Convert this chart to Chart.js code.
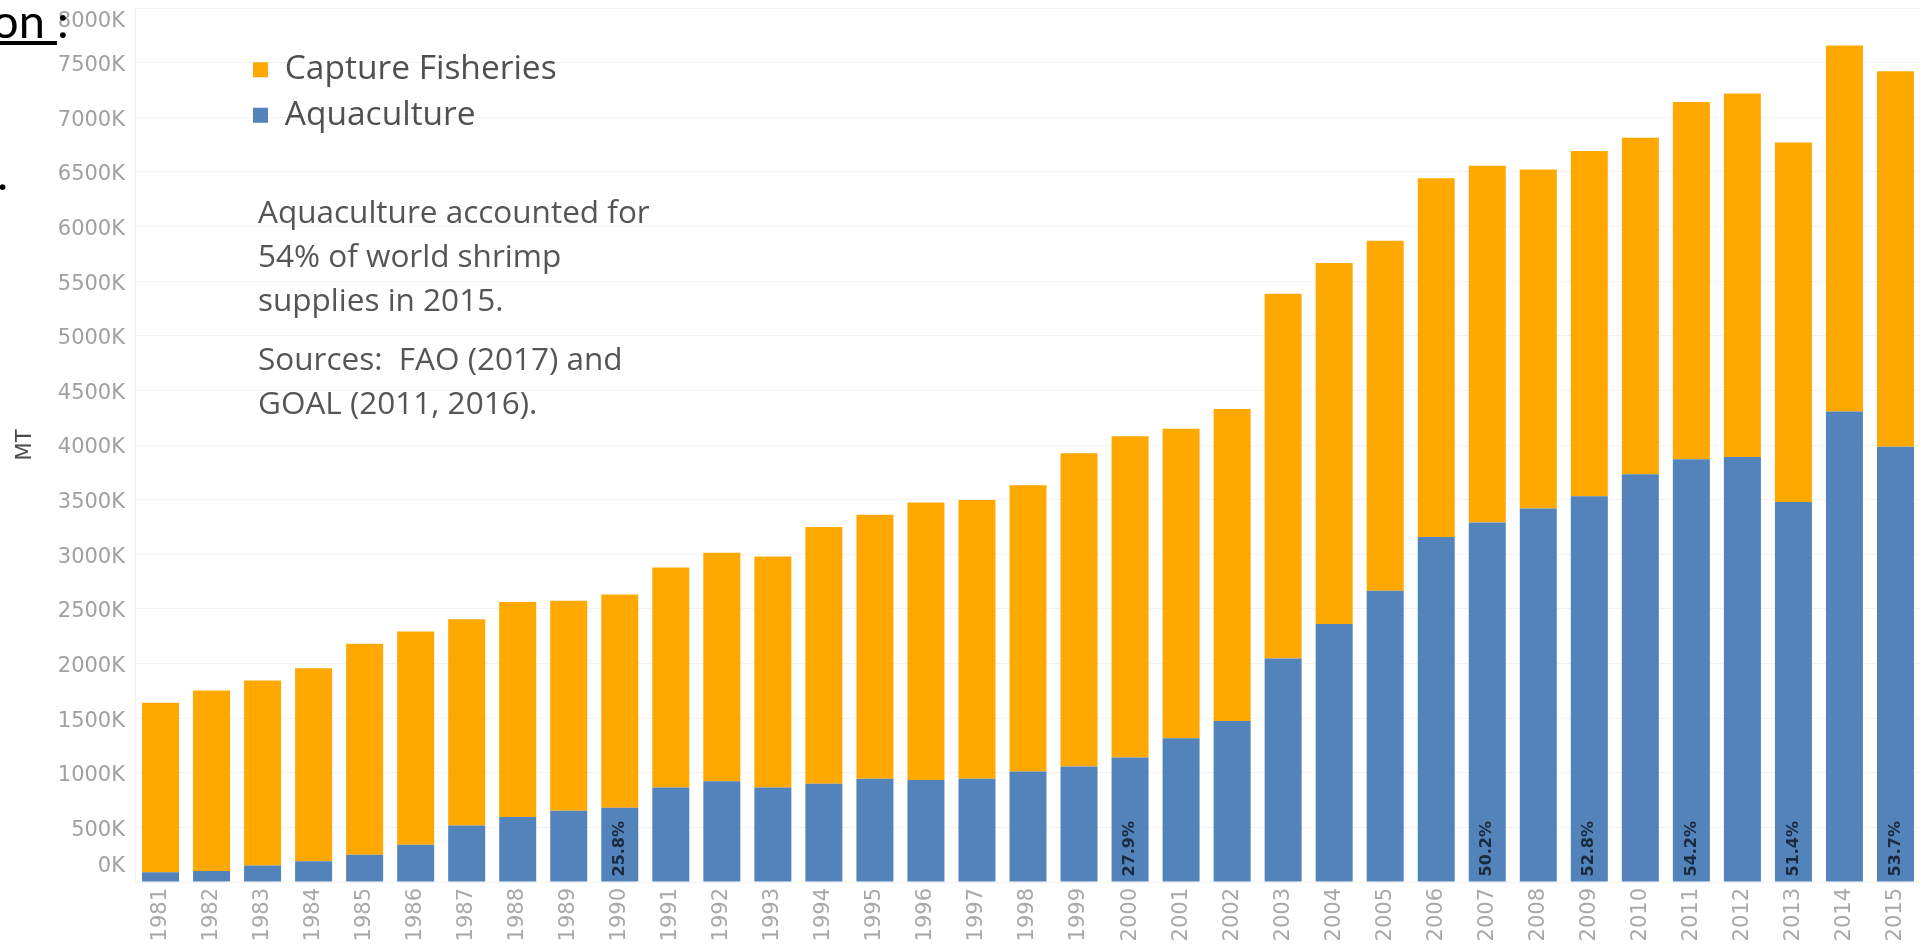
<!DOCTYPE html>
<html><head><meta charset="utf-8">
<script src="https://cdn.jsdelivr.net/npm/chart.js@4.4.0/dist/chart.umd.min.js"></script>
<style>
html,body{margin:0;padding:0;background:#fff;}
#wrap{position:relative;width:1926px;height:947px;overflow:hidden;}
#c{position:absolute;left:0;top:0;}
.note{position:absolute;left:258px;top:189px;font-family:'Open Sans';font-size:31.5px;line-height:44px;color:#555;white-space:pre;}
.note p{margin:0 0 15px 0;}
.slide{position:absolute;font-family:Lato;color:#000;font-size:47px;line-height:1;}
</style></head><body>
<div id="wrap"><canvas id="c" width="1926" height="947"></canvas>
<div class="note"><p>Aquaculture accounted for
54% of world shrimp
supplies in 2015.</p><p>Sources:  FAO (2017) and
GOAL (2011, 2016).</p></div>
<div class="slide" style="left:-8px;top:-3px;"><u>on </u>:</div>
<div class="slide" style="left:-3px;top:149px;">.</div>
</div>
<script>
const years = ['1981','1982','1983','1984','1985','1986','1987','1988','1989','1990','1991','1992','1993','1994','1995','1996','1997','1998','1999','2000','2001','2002','2003','2004','2005','2006','2007','2008','2009','2010','2011','2012','2013','2014','2015'];
// thousand metric tonnes
const aquaculture = [90,100,150,190,250,340,517,596,652,679,866,922,866,900,944,933,944,1012,1057,1139,1315,1473,2046,2361,2665,3159,3291,3418,3532,3733,3869,3890,3479,4306,3985];
const capture = [1551,1654,1694,1766,1931,1954,1889,1967,1923,1952,2012,2091,2113,2349,2418,2541,2553,2619,2867,2942,2834,2856,3339,3306,3204,3283,3264,3103,3158,3080,3270,3328,3289,3350,3435];
const pctLabels = [null,null,null,null,null,null,null,null,null,'25.8%',null,null,null,null,null,null,null,null,null,'27.9%',null,null,null,null,null,null,'50.2%',null,'52.8%',null,'54.2%',null,'51.4%',null,'53.7%'];
const yUnit = 'K';

const ORANGE = '#FFA900';
const BLUE = '#5283BA';
Chart.defaults.font.family = '"DejaVu Sans", sans-serif';

const pctPlugin = {
  id: 'pct',
  afterDatasetsDraw(chart) {
    const meta = chart.getDatasetMeta(0);
    const ctx = chart.ctx;
    ctx.save();
    ctx.font = 'bold 16px "DejaVu Sans"';
    ctx.fillStyle = '#1c2a3d';
    ctx.textAlign = 'left';
    ctx.textBaseline = 'middle';
    pctLabels.forEach((t, i) => {
      if (!t) return;
      const bar = meta.data[i];
      ctx.save();
      ctx.translate(bar.x, bar.base - 5);
      ctx.rotate(-Math.PI / 2);
      ctx.fillText(t, 0, 0);
      ctx.restore();
    });
    ctx.restore();
  }
};
const legendPlace = {
  id: 'legendPlace',
  afterLayout(chart) {
    const l = chart.legend;
    if (!l) return;
    const w = l.width, h = l.height;
    l.left = 241; l.top = 41; l.right = l.left + w; l.bottom = l.top + h;
  }
};
// keep the end tick labels inside the plot like the original (0K nudged up, top label nudged down)
const edgeLabels = {
  id: 'edgeLabels',
  beforeDraw(chart) {
    const s = chart.scales.y;
    const items = s.getLabelItems();
    if (!items.length || items._nudged) return;
    items.forEach(it => { it.options.translation[1] += 3; });
    items[0].options.translation[1] -= 18;
    items[items.length - 1].options.translation[1] += 11;
    items._nudged = true;
  }
};

new Chart(document.getElementById('c'), {
  type: 'bar',
  data: {
    labels: years,
    datasets: [
      {label: 'Aquaculture', data: aquaculture, backgroundColor: BLUE, borderWidth: 0, barPercentage: 0.725, categoryPercentage: 1},
      {label: 'Capture Fisheries', data: capture, backgroundColor: ORANGE, borderWidth: 0, barPercentage: 0.725, categoryPercentage: 1}
    ]
  },
  plugins: [pctPlugin, legendPlace, edgeLabels],
  options: {
    responsive: false,
    animation: false,
    layout: {padding: {top: 8, right: 5, bottom: 0, left: 0}},
    plugins: {
      tooltip: {enabled: false},
      legend: {
        position: 'chartArea', align: 'start', reverse: true,
        labels: {boxWidth: 15, boxHeight: 15, padding: 12, color: '#505050', font: {family: '"Open Sans"', size: 33.5}}
      }
    },
    scales: {
      x: {
        stacked: true,
        grid: {display: false, drawTicks: false},
        border: {display: false},
        ticks: {minRotation: 90, maxRotation: 90, autoSkip: false, padding: 6, color: '#a8a8a8', font: {size: 21}},
        afterFit(s) { s.height = 65; s.paddingLeft = 0; s.paddingRight = 0; }
      },
      y: {
        stacked: true, min: 0, max: 8000,
        grid: {color: '#f2f2f2', drawTicks: false},
        border: {color: '#eeeeee'},
        ticks: {stepSize: 500, padding: 10, color: '#a0a0a0', font: {size: 21}, callback: v => v + yUnit},
        title: {display: true, text: 'MT', color: '#4a4a4a', font: {size: 21}, padding: {top: 13, bottom: 0}},
        afterFit(s) { s.width = 135; s.paddingTop = 0; s.paddingBottom = 0; }
      }
    }
  }
});
</script>
</body></html>
